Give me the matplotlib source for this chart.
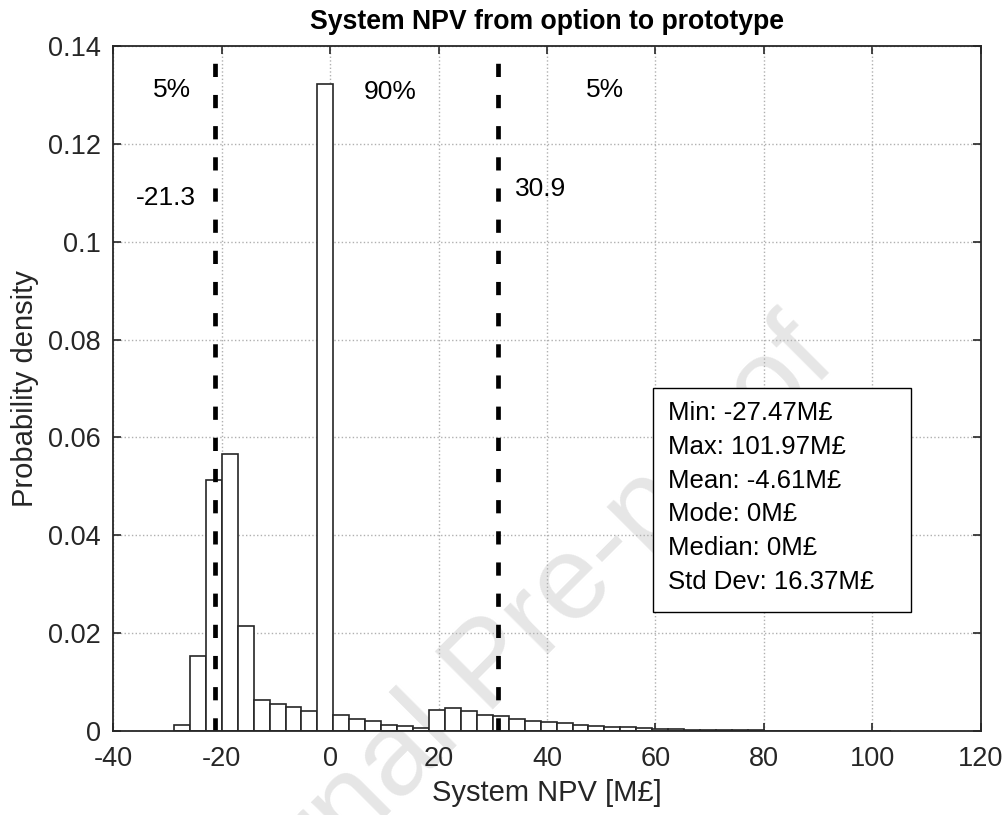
import numpy as np
import matplotlib
matplotlib.use('Agg')
import matplotlib.pyplot as plt
from matplotlib.patches import Rectangle

plt.rcParams['font.family'] = ['Liberation Sans', 'DejaVu Sans']
plt.rcParams['axes.unicode_minus'] = False

# histogram densities, regular bins
bin_start = -28.8
bin_width = 2.94
density = [0.0013, 0.0153, 0.0512, 0.0567, 0.0215, 0.0064, 0.0056, 0.0049, 0.0041,
           0.1323, 0.0033, 0.0025, 0.0021, 0.0013, 0.0010, 0.0007, 0.0042, 0.0047,
           0.0040, 0.0033, 0.0030, 0.0025, 0.0020, 0.0018, 0.0016, 0.0013, 0.0011,
           0.0009, 0.0008, 0.0006, 0.0005, 0.0004, 0.0003, 0.00025, 0.0002, 0.00015,
           0.00012, 0.0001, 0.00008, 0.00006, 0.00004, 0.00003, 0.00002, 0.00001, 0.00001]

p5 = -21.3
p95 = 30.9
stats_lines = ['Min: -27.47M£', 'Max: 101.97M£', 'Mean: -4.61M£',
               'Mode: 0M£', 'Median: 0M£', 'Std Dev: 16.37M£']

fig = plt.figure(figsize=(10.04, 8.15), dpi=100)
ax = fig.add_axes([0.1127, 0.103, 0.8643, 0.8407])

# watermark behind everything
ax.text(0.489, 0.179, 'Journal Pre-proof', transform=fig.transFigure, rotation=45,
        ha='center', va='center', fontsize=86, color='#e6e6e6', zorder=0.1)

left_edges = bin_start + bin_width * np.arange(len(density))
ax.bar(left_edges, density, width=bin_width, align='edge', facecolor='white',
       edgecolor='#262626', linewidth=1.2, zorder=2)

for v in (p5, p95):
    ax.axvline(v, color='black', linewidth=3.4, linestyle=(0, (2.8, 3.8)), zorder=3)

fs = 19
ax.text(-29.2, 0.131, '5%', ha='center', va='center', fontsize=fs)
ax.text(-30.3, 0.109, '-21.3', ha='center', va='center', fontsize=fs)
ax.text(11.1, 0.1305, '90%', ha='center', va='center', fontsize=fs)
ax.text(38.8, 0.1108, '30.9', ha='center', va='center', fontsize=fs)
ax.text(50.6, 0.131, '5%', ha='center', va='center', fontsize=fs)

# stats box
ax.add_patch(Rectangle((0.622, 0.174), 0.298, 0.327, transform=ax.transAxes,
                       facecolor='white', edgecolor='black', linewidth=1.0, zorder=4))
for i, line in enumerate(stats_lines):
    ax.text(0.639, 0.464 - i * 0.0492, line, transform=ax.transAxes, ha='left',
            va='center', fontsize=18.5, zorder=5)

ax.set_xlim(-40, 120)
ax.set_ylim(0, 0.14)
ax.set_xticks(np.arange(-40, 121, 20))
ax.set_yticks(np.arange(0, 0.141, 0.02))
ax.set_yticklabels(['0', '0.02', '0.04', '0.06', '0.08', '0.1', '0.12', '0.14'])
ax.tick_params(direction='in', top=True, right=True, length=6, width=1.2,
               labelsize=19.5, colors='#262626')
ax.tick_params(axis='x', pad=11)
ax.tick_params(axis='y', pad=9)
ax.grid(True, linestyle=':', color='#b0b0b0', linewidth=1.0)
ax.set_axisbelow(True)
for s in ax.spines.values():
    s.set_linewidth(1.3)
    s.set_color('#262626')
    s.set_zorder(6)

ax.set_title('System NPV from option to prototype', fontsize=19.2, fontweight='bold', pad=12)
ax.set_xlabel('System NPV [M£]', fontsize=21, color='#262626', labelpad=5)
ax.set_ylabel('Probability density', fontsize=21, color='#262626', labelpad=6)
ax.patch.set_alpha(0)

fig.savefig('out.png', dpi=100)
